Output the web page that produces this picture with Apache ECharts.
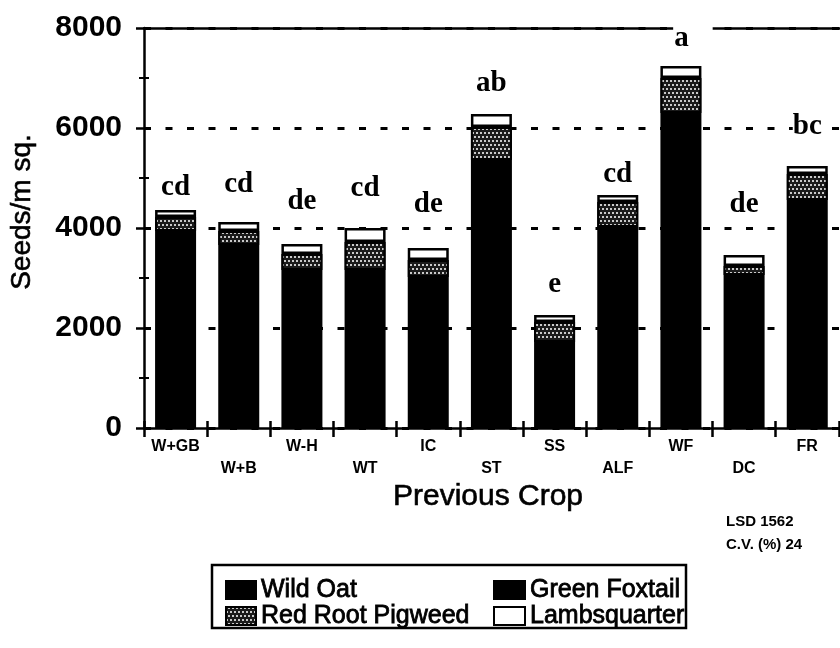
<!DOCTYPE html>
<html>
<head>
<meta charset="utf-8">
<script src="https://cdn.jsdelivr.net/npm/echarts@6/dist/echarts.min.js"></script>
<style>
html,body{margin:0;padding:0;background:#fff;}
#chart{width:840px;height:648px;}
</style>
</head>
<body>
<div id="chart"></div>
<script>
// ---- data ----
const categories = ['W+GB', 'W+B', 'W-H', 'WT', 'IC', 'ST', 'SS', 'ALF', 'WF', 'DC', 'FR', ''];
const wildOat        = [720, 500, 460, 500, 360, 600, 400, 300, 700, 460, 600, 500];
const greenFoxtail   = [3220, 3160, 2700, 2660, 2660, 4760, 1320, 3720, 5600, 2600, 3960, 3900];
const redRootPigweed = [280, 280, 320, 560, 340, 660, 400, 500, 700, 180, 520, 0];
const lambsquarter   = [140, 180, 200, 280, 240, 260, 140, 140, 240, 220, 160, 160];
const letters        = ['cd', 'cd', 'de', 'cd', 'de', 'ab', 'e', 'cd', 'a', 'de', 'bc', ''];
const yTicks         = [0, 2000, 4000, 6000, 8000];
const seriesNames    = ['Wild Oat', 'Green Foxtail', 'Red Root Pigweed', 'Lambsquarter'];
const xAxisTitle = 'Previous Crop';
const yAxisTitle = 'Seeds/m sq.';
const noteLines = ['LSD 1562', 'C.V. (%) 24'];

// ---- layout / style (not data) ----
const letterGapPx = [14, 29, 34, 31, 35, 22, 22, 12, 19, 42, 31, 0];
const SANS = 'Liberation Sans';
const SERIF = 'Liberation Serif';
const BLACK = '#000';

const chart = echarts.init(document.getElementById('chart'), null, {renderer: 'canvas'});

const tickLine = {color: BLACK, width: 2.5};

const lambData = lambsquarter.map((v, i) => {
  const lbl = {distance: Math.max(0, letterGapPx[i] - 6)};
  if (letters[i] === 'a') {
    lbl.padding = [2, 24, 2, 1];
    lbl.offset = [12, 0];
    lbl.distance = Math.max(0, letterGapPx[i] - 8);
  }
  return {value: v, label: lbl};
});

const baseBar = {
  type: 'bar',
  stack: 'total',
  barWidth: 41,
  xAxisIndex: 0,
  yAxisIndex: 0,
  emphasis: {disabled: true},
  animation: false
};

const legendText = {fontFamily: SANS, fontSize: 25, color: BLACK, lineHeight: 26,
                    textBorderColor: BLACK, textBorderWidth: 0.8};

const option = {
  animation: false,
  backgroundColor: '#fff',
  grid: {left: 144, top: 28, width: 758, height: 400, containLabel: false, outerBoundsMode: 'none'},
  xAxis: [
    {
      type: 'category', data: categories, position: 'bottom',
      axisLine: {show: true, lineStyle: tickLine},
      axisTick: {show: true, length: 9, lineStyle: tickLine},
      axisLabel: {
        interval: 0, margin: 8, color: BLACK, fontFamily: SANS, fontWeight: 'bold',
        fontSize: 16, lineHeight: 22, hideOverlap: false,
        formatter: (v, i) => (i % 2 ? '\n' + v : v)
      },
      splitLine: {show: false}
    },
    {
      type: 'category', data: categories, position: 'bottom', offset: 0,
      axisLine: {show: false},
      axisTick: {show: true, inside: true, length: 7, lineStyle: tickLine},
      axisLabel: {show: false}, splitLine: {show: false}
    },
    {
      type: 'category', data: categories, position: 'top',
      axisLine: {show: true, lineStyle: tickLine},
      axisTick: {show: false}, axisLabel: {show: false}, splitLine: {show: false}
    }
  ],
  yAxis: [
    {
      type: 'value', min: yTicks[0], max: yTicks[yTicks.length - 1], interval: yTicks[1] - yTicks[0],
      position: 'left',
      axisLine: {show: true, lineStyle: tickLine},
      axisTick: {show: true, length: 8, lineStyle: tickLine},
      minorTick: {show: true, splitNumber: 2, length: 5, lineStyle: {color: BLACK, width: 2}},
      splitLine: {show: true, lineStyle: {color: BLACK, width: 3, type: [7, 14.5]}},
      axisLabel: {margin: 22, color: BLACK, fontFamily: SANS, fontWeight: 'bold', fontSize: 30,
                  formatter: v => String(v)}
    },
    {
      type: 'value', min: yTicks[0], max: yTicks[yTicks.length - 1], interval: yTicks[1] - yTicks[0],
      position: 'left', offset: 0,
      axisLine: {show: false},
      axisTick: {show: true, inside: true, length: 7, lineStyle: tickLine},
      minorTick: {show: true, splitNumber: 2, length: 5, lineStyle: {color: BLACK, width: 2}},
      splitLine: {show: false},
      axisLabel: {show: false}
    }
  ],
  legend: [
    {
      data: [seriesNames[0], seriesNames[2]], orient: 'vertical', left: 220, top: 572,
      itemWidth: 30, itemHeight: 18, itemGap: 0, icon: 'rect', selectedMode: false,
      textStyle: legendText
    },
    {
      data: [seriesNames[1], seriesNames[3]], orient: 'vertical', left: 488, top: 572,
      itemWidth: 31, itemHeight: 18, itemGap: 0, icon: 'rect', selectedMode: false,
      textStyle: legendText
    }
  ],
  graphic: [
    {type: 'rect', shape: {x: 212, y: 565, width: 474, height: 63},
     style: {fill: 'none', stroke: BLACK, lineWidth: 2.5}, z: 10},
    {type: 'text', x: 488, y: 497,
     style: {text: xAxisTitle, fontFamily: SANS, fontSize: 30, fill: BLACK, align: 'center', verticalAlign: 'middle',
             stroke: BLACK, lineWidth: 0.6}},
    {type: 'text', x: 22, y: 212, rotation: Math.PI / 2,
     style: {text: yAxisTitle, fontFamily: SANS, fontSize: 28, fill: BLACK, align: 'center', verticalAlign: 'middle',
             stroke: BLACK, lineWidth: 0.6}},
    {type: 'text', x: 726, y: 522,
     style: {text: noteLines[0], fontFamily: SANS, fontWeight: 'bold', fontSize: 15, fill: BLACK, align: 'left', verticalAlign: 'middle'}},
    {type: 'text', x: 726, y: 545,
     style: {text: noteLines[1], fontFamily: SANS, fontWeight: 'bold', fontSize: 15, fill: BLACK, align: 'left', verticalAlign: 'middle'}}
  ],
  series: [
    Object.assign({}, baseBar, {
      name: seriesNames[0], data: wildOat,
      itemStyle: {color: BLACK, borderColor: BLACK, borderWidth: 2}
    }),
    Object.assign({}, baseBar, {
      name: seriesNames[1], data: greenFoxtail,
      itemStyle: {color: BLACK, borderColor: BLACK, borderWidth: 2}
    }),
    Object.assign({}, baseBar, {
      name: seriesNames[2], data: redRootPigweed,
      itemStyle: {
        color: '#1a1a1a', borderColor: BLACK, borderWidth: 2,
        decal: {symbol: 'rect', symbolSize: 0.9, color: 'rgba(255,255,255,0.85)',
                dashArrayX: [[1.5, 1.5], [0, 1.5, 1.5, 0]], dashArrayY: [1.5, 1.5], rotation: 0}
      }
    }),
    Object.assign({}, baseBar, {
      name: seriesNames[3], data: lambData,
      itemStyle: {color: '#fff', borderColor: BLACK, borderWidth: 2.5},
      label: {
        show: true, position: 'top',
        formatter: p => letters[p.dataIndex],
        fontFamily: SERIF, fontWeight: 'bold', fontSize: 29, color: BLACK,
        backgroundColor: '#fff'
      }
    })
  ]
};

chart.setOption(option);
</script>
</body>
</html>
